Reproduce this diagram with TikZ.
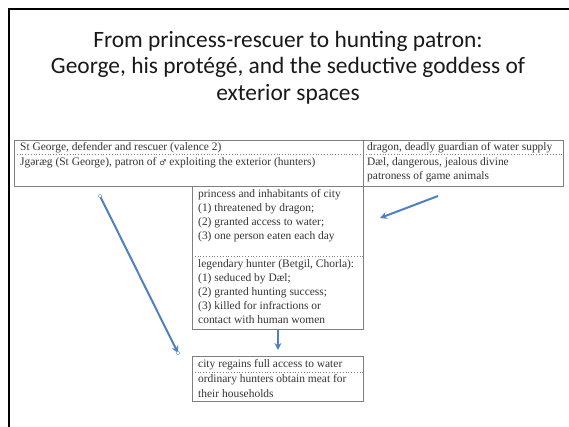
\documentclass[tikz,border=0pt]{standalone}
\usepackage{fontspec}
\setmainfont{Liberation Serif}
\newfontfamily\titlefont{Carlito}
\newfontfamily\symbolfont{DejaVu Sans}
\usetikzlibrary{arrows.meta}
\definecolor{textgray}{HTML}{333333}
\definecolor{rulegray}{HTML}{7F7F7F}
\definecolor{arrowblue}{HTML}{4F81BD}
\tikzset{
  celltext/.style={anchor=base west, inner sep=0pt, text=textgray, font=\fontsize{11.5}{14}\selectfont},
  cellbox/.style={draw=rulegray, line width=0.8bp, inner sep=0pt, anchor=north west},
  rowrule/.style={draw=rulegray, line width=0.8bp, dotted},
  bluearrow/.style={draw=arrowblue, line width=2bp, -{Stealth[length=7bp,width=7bp]}},
  handle/.style={circle, draw=arrowblue!70, fill=white, line width=0.6bp, inner sep=1.4bp}
}
\begin{document}
\begin{tikzpicture}[x=1bp, y=-1bp]
    \useasboundingbox (0,0) rectangle (569,426);
    \draw[line width=2.5bp] (9,427) -- (9,9) -- (570,9);
    \node[anchor=north, align=center, inner sep=0pt, font=\titlefont\fontsize{23.5}{26.5}\selectfont, text=black!90] (title) at (288,31) {From princess-rescuer to hunting patron:\\George, his protégé, and the seductive goddess of\\exterior spaces};
    \node[cellbox, minimum width=549bp, minimum height=46bp] (table) at (14,140) {};
    \node[cellbox, minimum width=171bp, minimum height=143bp] (plot) at (192,186) {};
    \node[cellbox, minimum width=171bp, minimum height=45bp] (outcome) at (192,356) {};
    \draw[draw=rulegray, line width=0.8bp] (table.north -| plot.east) -- (table.south -| plot.east);
    \draw[rowrule] (table.west |- 0,154) -- (table.east |- 0,154);
    \draw[rowrule] (plot.west |- 0,256) -- (plot.east |- 0,256);
    \draw[rowrule] (outcome.west |- 0,372) -- (outcome.east |- 0,372);
    \node[celltext] (george) at (20,150) {St George, defender and rescuer (valence 2)};
    \node[celltext] (jgoraeg) at (20,165) {Jgəræg (St George), patron of {\symbolfont\fontsize{8}{10}\selectfont ♂} exploiting the exterior (hunters)};
    \node[celltext] (dragon) at (367,150) {dragon, deadly guardian of water supply};
    \node[celltext] (dael) at (367,165) {Dæl, dangerous, jealous divine};
    \node[celltext] (patroness) at (367,179) {patroness of game animals};
    \node[celltext] (princess) at (198,197) {princess and inhabitants of city};
    \node[celltext] (threat1) at (198,211) {(1) threatened by dragon;};
    \node[celltext] (threat2) at (198,225) {(2) granted access to water;};
    \node[celltext] (threat3) at (198,239) {(3) one person eaten each day};
    \node[celltext] (hunter) at (198,267) {legendary hunter (Betgil, Chorla):};
    \node[celltext] (hunter1) at (198,281) {(1) seduced by Dæl;};
    \node[celltext] (hunter2) at (198,295) {(2) granted hunting success;};
    \node[celltext] (hunter3) at (198,309) {(3) killed for infractions or};
    \node[celltext] (hunter4) at (198,323) {contact with human women};
    \node[celltext] (water) at (198,367) {city regains full access to water};
    \node[celltext] (meat) at (198,382) {ordinary hunters obtain meat for};
    \node[celltext] (households) at (198,397) {their households};
    \coordinate (tailL) at (100,196);
    \coordinate (headL) at (178,353);
    \coordinate (tailR) at (438,196);
    \coordinate (headR) at (380,218);
    \draw[bluearrow] (tailL) -- (headL);
    \draw[bluearrow] (tailR) -- (headR);
    \draw[bluearrow, shorten >=6bp] (plot.south) -- (outcome.north);
    \node[handle] at (tailL) {};
    \node[handle] at (headL) {};
  \end{tikzpicture}
\end{document}
